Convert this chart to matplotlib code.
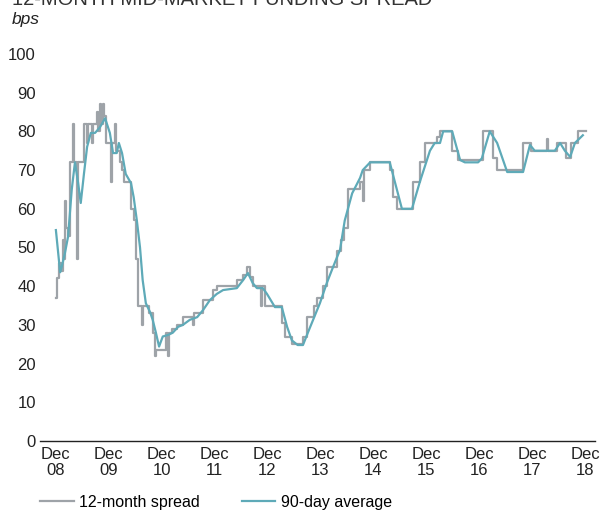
import matplotlib
matplotlib.use('Agg')
import matplotlib.pyplot as plt
from matplotlib import font_manager

names = {f.name for f in font_manager.fontManager.ttflist}
base = 'Liberation Sans Narrow' if 'Liberation Sans Narrow' in names else 'Liberation Sans'
plt.rcParams['font.family'] = [base, 'DejaVu Sans']

# 12-month spread (step series), decimal years / bps
spread_t = [2008.92, 2008.94, 2008.98, 2009.01, 2009.05, 2009.07, 2009.09, 2009.11, 2009.15, 2009.18,
            2009.24, 2009.26, 2009.32, 2009.34, 2009.45, 2009.51, 2009.52, 2009.60, 2009.62, 2009.70,
            2009.71, 2009.75, 2009.77, 2009.81, 2009.83, 2009.87, 2009.96, 2009.98, 2010.04, 2010.05,
            2010.13, 2010.17, 2010.21, 2010.34, 2010.39, 2010.43, 2010.47, 2010.55, 2010.56, 2010.68,
            2010.75, 2010.79, 2010.81, 2011.00, 2011.04, 2011.06, 2011.11, 2011.21, 2011.32, 2011.51,
            2011.53, 2011.70, 2011.89, 2011.96, 2012.34, 2012.46, 2012.53, 2012.59, 2012.64, 2012.80,
            2012.81, 2012.87, 2013.19, 2013.25, 2013.38, 2013.59, 2013.67, 2013.80, 2013.85, 2013.97,
            2014.04, 2014.23, 2014.31, 2014.36, 2014.44, 2014.67, 2014.72, 2014.74, 2014.86, 2015.23,
            2015.29, 2015.37, 2015.67, 2015.80, 2015.90, 2016.12, 2016.18, 2016.41, 2016.52, 2016.99,
            2017.18, 2017.26, 2017.75, 2017.90, 2018.20, 2018.22, 2018.39, 2018.56, 2018.66, 2018.79,
            2018.94]
spread_v = [37, 42, 46, 44, 52, 47, 62, 55, 53, 72,
            82, 72, 47, 72, 82, 77, 82, 77, 82, 85,
            80, 87, 82, 87, 84, 77, 67, 77, 82, 75,
            72, 70, 67, 60, 57, 47, 35, 30, 35, 33,
            28, 22, 23.5, 28, 22, 28, 29, 30, 32, 30,
            33, 36.5, 39, 40, 41.5, 43, 45, 42.5, 40, 35,
            40, 35, 30.5, 27, 25, 27, 32, 35, 37, 40,
            45, 49, 52, 55, 65, 67, 62, 70, 72, 70,
            63, 60, 67, 72, 77, 78.5, 80, 75, 72.5, 80,
            73, 70, 77, 75, 78, 75, 77, 73, 77, 80,
            80]

# 90-day average
avg_t = [2008.92, 2009.00, 2009.03, 2009.09, 2009.15, 2009.22, 2009.28, 2009.34, 2009.39, 2009.45,
         2009.51, 2009.58, 2009.66, 2009.75, 2009.85, 2009.94, 2010.00, 2010.07, 2010.11, 2010.17,
         2010.24, 2010.34, 2010.39, 2010.45, 2010.51, 2010.56, 2010.62, 2010.70, 2010.75, 2010.81,
         2010.87, 2010.94, 2011.04, 2011.13, 2011.23, 2011.32, 2011.45, 2011.59, 2011.70, 2011.83,
         2011.96, 2012.08, 2012.34, 2012.46, 2012.55, 2012.64, 2012.72, 2012.83, 2012.91, 2013.06,
         2013.19, 2013.29, 2013.38, 2013.49, 2013.59, 2013.68, 2013.82, 2013.91, 2014.04, 2014.16,
         2014.29, 2014.38, 2014.52, 2014.67, 2014.72, 2014.86, 2015.23, 2015.46, 2015.65, 2015.80,
         2015.99, 2016.08, 2016.18, 2016.24, 2016.41, 2016.56, 2016.65, 2016.90, 2016.97, 2017.12,
         2017.26, 2017.45, 2017.75, 2017.88, 2017.97, 2018.35, 2018.45, 2018.54, 2018.64, 2018.73,
         2018.88]
avg_v = [54.5, 43.6, 45, 48.5, 52.8, 65, 72, 66.7, 61.5, 69,
         76, 79.6, 79.6, 81, 83.4, 79.6, 74.4, 74.4, 77, 74.4,
         69, 66.6, 63, 57, 50, 41.6, 35.6, 33.3, 31.3, 28,
         24.4, 27, 27.4, 28, 29.5, 30, 31.3, 32, 33.8, 36.4,
         38, 39, 39.5, 41.6, 43.4, 40.8, 39.5, 39.5, 38, 34.6,
         34.6, 29.5, 26, 24.8, 24.8, 27.9, 32.6, 35.6, 40.8, 45,
         49.4, 57, 64, 68, 70, 72, 72, 60, 60, 67,
         75, 77, 77, 80, 80, 72.6, 72, 72, 73, 80,
         77, 69.5, 69.5, 76.5, 75, 75, 77, 75, 73.4, 77,
         79]

tick_pos = [2008.92 + i for i in range(11)]
tick_labels = ['Dec\n%02d' % (8 + i) for i in range(11)]

fig = plt.figure(figsize=(6, 5.14), dpi=100)
ax = fig.add_axes([0.0667, 0.142, 0.925, 0.753])

ax.plot(spread_t, spread_v, drawstyle='steps-post', color='#9ea3a8', lw=1.6, label='12-month spread')
ax.plot(avg_t, avg_v, color='#5eaab8', lw=1.6, label='90-day average')

ax.set_ylim(0, 100)
ax.set_xlim(2008.62, 2019.11)
ax.set_yticks(range(0, 101, 10))
ax.set_xticks(tick_pos)
ax.set_xticklabels(tick_labels, linespacing=1.1)
ax.tick_params(length=0, labelsize=12, colors='#222222', pad=4)
ax.tick_params(axis='y', pad=3)
for s in ['top', 'right', 'left']:
    ax.spines[s].set_visible(False)
ax.spines['bottom'].set_color('#222222')
ax.spines['bottom'].set_linewidth(1.0)

fig.text(0.02, 1 - 5 / 514, '12-MONTH MID-MARKET FUNDING SPREAD', fontsize=14.5,
         color='#333333', va='baseline')
fig.text(0.02, 1 - 24 / 514, 'bps', fontsize=12.5, style='italic', color='#222222', va='baseline')

fig.legend(loc='lower left', bbox_to_anchor=(0.067, 0.008), ncol=2, frameon=False,
           fontsize=11.5, handlelength=2.1, handletextpad=0.35, columnspacing=2.6,
           borderpad=0, borderaxespad=0)

fig.savefig('out.png', dpi=100)
